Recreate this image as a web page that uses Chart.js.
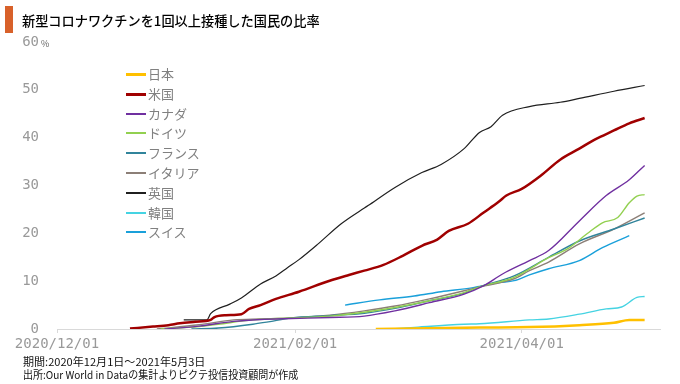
<!DOCTYPE html>
<html><head><meta charset="utf-8">
<script src="https://cdn.jsdelivr.net/npm/chart.js@4/dist/chart.umd.min.js"></script>
<style>
html,body{margin:0;padding:0;background:#fff;}
#wrap{position:relative;width:680px;height:384px;overflow:hidden;font-family:"Noto Sans CJK JP","Noto Sans",sans-serif;}
#c{position:absolute;left:0;top:0;}
.bar{position:absolute;left:5px;top:6px;width:8px;height:27px;background:#D8612A;}
.title{position:absolute;left:22px;top:12px;font-size:13.2px;line-height:18px;color:#000;font-weight:500;white-space:nowrap;}
.unit{position:absolute;left:41px;top:39px;font-size:9px;line-height:10px;color:#666;}
.foot{position:absolute;left:23px;font-size:11px;line-height:12px;color:#111;white-space:nowrap;transform-origin:0 0;}
.lg-line{position:absolute;left:126px;width:20px;}
.lg-text{position:absolute;left:148px;font-size:13px;line-height:16px;color:#808080;white-space:nowrap;}
</style></head>
<body>
<div id="wrap">
<canvas id="c" width="680" height="384"></canvas>
<div class="bar"></div>
<div class="title">新型コロナワクチンを1回以上接種した国民の比率</div>
<div class="unit">%</div>
<div class="foot" id="f1" style="top:355px">期間:2020年12月1日～2021年5月3日</div>
<div class="foot" id="f2" style="top:368px">出所:Our World in Dataの集計よりピクテ投信投資顧問が作成</div>
<div id="legend"></div>
</div>
<script>
// x values: days since 2020/12/01
const xTickDays = [0, 62, 121];
const xTickLabels = ['2020/12/01', '2021/02/01', '2021/04/01'];
const yTicks = [0, 10, 20, 30, 40, 50, 60];

const seriesNames = ['日本','米国','カナダ','ドイツ','フランス','イタリア','英国','韓国','スイス'];

const japanDays = [83,110,123,136,145,149,153];
const japanVals = [0,0.3,0.4,0.8,1.3,1.9,1.9];

const usDays = [19,25,29,32,36,40,41,44,48,50,53,57,63,71,76,80,85,90,95,99,102,107,111,115,117,121,126,131,136,140,145,149,153];
const usVals = [0.1,0.5,0.8,1.2,1.5,1.9,2.5,2.9,3.1,4.2,5.0,6.3,7.8,10.1,11.3,12.2,13.4,15.3,17.4,18.7,20.5,22.0,24.3,26.6,27.9,29.3,32.1,35.4,37.7,39.6,41.5,43.0,44.1];

const canadaDays = [28,37,46,53,61,71,80,88,97,106,111,116,123,128,136,143,149,153];
const canadaVals = [0,0.6,1.6,2.0,2.2,2.4,2.7,3.8,5.5,7.3,9.0,11.5,14.3,16.4,22.6,27.9,31.2,34.2];

const germanyDays = [27,37,42,51,61,71,80,88,97,106,110,119,128,133,138,142,146,149,151,153];
const germanyVals = [0,0.5,1.0,1.9,2.3,2.7,3.5,4.5,5.9,7.6,8.8,10.8,14.9,16.8,19.9,22.2,23.3,26.4,27.8,28.1];

const franceDays = [35,42,51,55,61,71,80,88,97,106,110,119,128,136,145,153];
const franceVals = [0,0.2,1.0,1.5,2.3,2.8,3.3,4.3,5.9,7.5,8.8,11.1,15.0,18.4,20.9,23.2];

const italyDays = [26,37,46,53,61,71,80,88,97,106,110,119,123,128,136,145,153];
const italyVals = [0,0.9,1.9,2.1,2.3,2.9,3.8,4.8,6.3,8.0,8.8,10.5,12.2,14.0,17.8,20.9,24.3];

const ukDays = [33,39,40,45,48,53,57,60,63,68,74,81,88,95,100,106,110,113,116,123,131,136,145,153];
const ukVals = [1.9,1.9,3.2,5.2,6.5,9.4,11.1,12.8,14.5,17.8,22.0,25.8,29.6,32.7,34.4,37.7,41.1,42.3,44.7,46.5,47.4,48.2,49.7,50.9];

const koreaDays = [87,94,106,110,123,128,136,143,147,151,153];
const koreaVals = [0,0.4,1.0,1.1,1.9,2.1,3.1,4.2,4.6,6.6,6.8];

const swissDays = [75,84,93,100,108,115,119,123,128,136,142,149];
const swissVals = [5.0,6.1,6.9,7.8,8.6,9.7,10.1,11.3,12.6,14.3,17.0,19.5];

const seriesDays = [japanDays,usDays,canadaDays,germanyDays,franceDays,italyDays,ukDays,koreaDays,swissDays];
const seriesVals = [japanVals,usVals,canadaVals,germanyVals,franceVals,italyVals,ukVals,koreaVals,swissVals];

// styles
const colors = ['#FFC000','#A00000','#7030A0','#92D050','#31849B','#8C7F77','#1F1F1F','#45D3E2','#1AA0DA'];
const widths = [2.5,2.5,1.4,1.4,1.4,1.4,1.2,1.4,1.4];

const datasets = seriesNames.map((name,i)=>({
  label:name,
  data: seriesDays[i].map((d,j)=>({x:d,y:seriesVals[i][j]})),
  borderColor:colors[i], backgroundColor:colors[i], borderWidth:widths[i],
  pointRadius:0, fill:false, cubicInterpolationMode:'monotone'
}));

new Chart(document.getElementById('c'), {
  type:'line',
  data:{datasets},
  options:{
    responsive:false, animation:false,
    layout:{padding:{left:0,right:20,top:42,bottom:0}},
    plugins:{legend:{display:false}, tooltip:{enabled:false}},
    scales:{
      x:{type:'linear', min:0, max:157,
        afterBuildTicks:s=>{s.ticks = xTickDays.map(v=>({value:v}));},
        afterFit:s=>{s.height=55;},
        grid:{display:true, drawOnChartArea:false, drawTicks:true, tickLength:4, color:'#d9d9d9'},
        border:{display:true, color:'#d9d9d9', width:1},
        ticks:{autoSkip:false, maxRotation:0, padding:3, color:'#999999',
          font:{family:'DejaVu Sans Mono', size:14},
          callback:(v)=>{const k=xTickDays.indexOf(v); return k>=0?xTickLabels[k]:'';}}
      },
      y:{min:0, max:60,
        afterBuildTicks:s=>{s.ticks = yTicks.map(v=>({value:v}));},
        afterFit:s=>{s.width=57;},
        grid:{display:false, drawTicks:false},
        border:{display:false},
        ticks:{padding:18, color:'#999999', font:{family:'DejaVu Sans Mono', size:14}}
      }
    }
  }
});

// legend
const lg = document.getElementById('legend');
seriesNames.forEach((name,i)=>{
  const cy = Math.round(74 + i*19.8);
  const ln = document.createElement('div');
  ln.className='lg-line';
  const w = widths[i] >= 2 ? 3 : 2;
  ln.style.top = (cy - Math.floor(w/2))+'px'; ln.style.height = w+'px'; ln.style.background = colors[i];
  lg.appendChild(ln);
  const tx = document.createElement('div');
  tx.className='lg-text'; tx.textContent=name; tx.style.top=(cy-8)+'px';
  lg.appendChild(tx);
});
// condensed footer
[['f1',182],['f2',275]].forEach(([id,target])=>{
  const el=document.getElementById(id);
  const w=el.offsetWidth;
  if(w>0) el.style.transform='scaleX('+(target/w)+')';
});
</script>
</body></html>
